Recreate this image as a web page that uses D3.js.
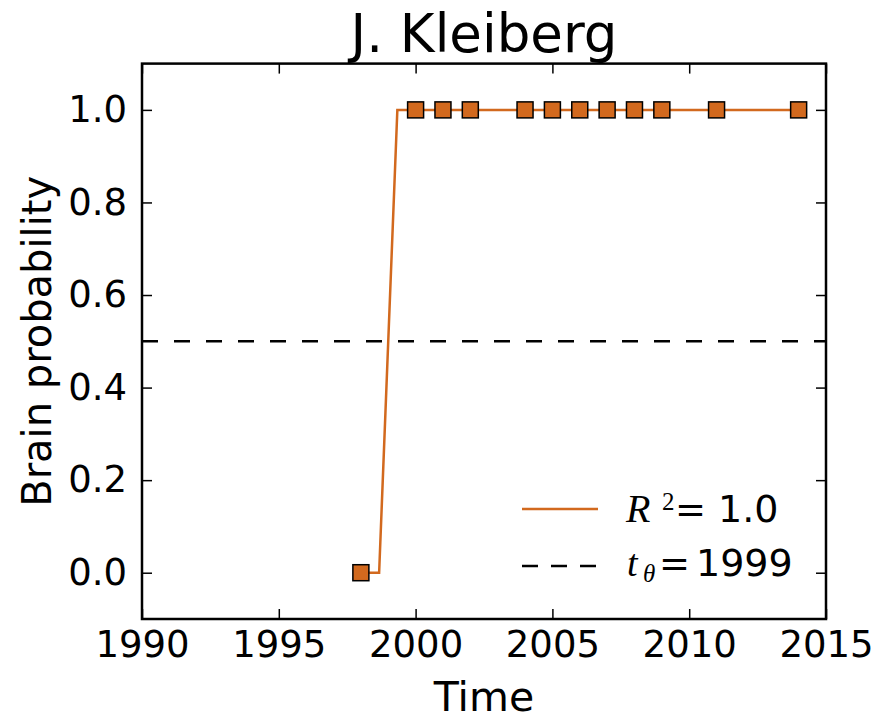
<!DOCTYPE html>
<html>
<head>
<meta charset="utf-8">
<script src="https://cdn.jsdelivr.net/npm/d3@7"></script>
<style>
  body { margin: 0; background: #fff; }
  text { font-family: "DejaVu Sans", sans-serif; fill: #000; }
</style>
</head>
<body>
<div id="chart"></div>
<script>
// observed points
const years = [1998, 2000, 2001, 2002, 2004, 2005, 2006, 2007, 2008, 2009, 2011, 2014];
const probs = [0, 1, 1, 1, 1, 1, 1, 1, 1, 1, 1, 1];

// fitted curve as drawn
const fitYears = [1998, 1998.667, 1999.333, 2000, 2014];
const fitProbs = [0, 0, 1, 1, 1];

const threshold = 0.5;
const r2 = "1.0";
const tTheta = "1999";

const xTicks = [1990, 1995, 2000, 2005, 2010, 2015];
const yTicks = [0.0, 0.2, 0.4, 0.6, 0.8, 1.0];

const width = 876, height = 720;
const margin = {left: 142, right: 50, top: 63.6, bottom: 101};
const color = "#d2691e";

const svg = d3.select("#chart").append("svg")
    .attr("width", width)
    .attr("height", height);

const x = d3.scaleLinear().domain([1990, 2015]).range([margin.left, width - margin.right]);
const y = d3.scaleLinear().domain([-0.1, 1.1]).range([height - margin.bottom, margin.top]);

// title
svg.append("text")
    .attr("x", (x.range()[0] + x.range()[1]) / 2)
    .attr("y", 52)
    .attr("text-anchor", "middle")
    .style("font-size", "53px")
    .text("J. Kleiberg");

// axes with inward ticks
const tickLen = 10;
const axB = svg.append("g").attr("transform", `translate(0,${y.range()[0]})`)
    .call(d3.axisBottom(x).tickValues(xTicks).tickFormat(d3.format("d")).tickSize(-tickLen).tickPadding(12));
const axL = svg.append("g").attr("transform", `translate(${x.range()[0]},0)`)
    .call(d3.axisLeft(y).tickValues(yTicks).tickFormat(d3.format(".1f")).tickSize(-tickLen).tickPadding(15));
const axT = svg.append("g").attr("transform", `translate(0,${y.range()[1]})`)
    .call(d3.axisTop(x).tickValues(xTicks).tickFormat("").tickSize(-tickLen));
const axR = svg.append("g").attr("transform", `translate(${x.range()[1]},0)`)
    .call(d3.axisRight(y).tickValues(yTicks).tickFormat("").tickSize(-tickLen));

[axB, axL, axT, axR].forEach(g => {
    g.select(".domain").remove();
    g.selectAll(".tick line").attr("stroke", "#000").attr("stroke-width", 1.5);
    g.selectAll(".tick text").style("font-size", "37px").style("font-family", "DejaVu Sans");
});

// axis labels
svg.append("text")
    .attr("x", (x.range()[0] + x.range()[1]) / 2)
    .attr("y", 711)
    .attr("text-anchor", "middle")
    .style("font-size", "41px")
    .text("Time");

svg.append("text")
    .attr("transform", `translate(51,${(y.range()[0] + y.range()[1]) / 2}) rotate(-90)`)
    .attr("text-anchor", "middle")
    .style("font-size", "40px")
    .text("Brain probability");

// threshold line
svg.append("line")
    .attr("x1", x.range()[0]).attr("x2", x.range()[1])
    .attr("y1", y(threshold)).attr("y2", y(threshold))
    .attr("stroke", "#000")
    .attr("stroke-width", 2.5)
    .attr("stroke-dasharray", "16,16");

// fit line
const line = d3.line().x((d, i) => x(fitYears[i])).y(d => y(d));
svg.append("path")
    .datum(fitProbs)
    .attr("d", line)
    .attr("fill", "none")
    .attr("stroke", color)
    .attr("stroke-width", 2.5);

// markers
const ms = 16;
svg.append("g").selectAll("rect")
    .data(years)
    .enter()
    .append("rect")
    .attr("x", d => x(d) - ms / 2)
    .attr("y", (d, i) => y(probs[i]) - ms / 2)
    .attr("width", ms)
    .attr("height", ms)
    .attr("fill", color)
    .attr("stroke", "#000")
    .attr("stroke-width", 1.5);

// frame
svg.append("rect")
    .attr("x", x.range()[0]).attr("y", y.range()[1])
    .attr("width", x.range()[1] - x.range()[0])
    .attr("height", y.range()[0] - y.range()[1])
    .attr("fill", "none")
    .attr("stroke", "#000")
    .attr("stroke-width", 2.5);

// legend
const leg = svg.append("g");
leg.append("line")
    .attr("x1", 522).attr("x2", 598).attr("y1", 509).attr("y2", 509)
    .attr("stroke", color).attr("stroke-width", 2.5);
leg.append("line")
    .attr("x1", 522).attr("x2", 598).attr("y1", 566).attr("y2", 566)
    .attr("stroke", "#000").attr("stroke-width", 2.5)
    .attr("stroke-dasharray", "16,13");

const serif = "'Liberation Serif', 'DejaVu Serif', serif";
leg.append("text").attr("x", 626).attr("y", 522)
    .style("font-family", serif).style("font-style", "italic").style("font-size", "40px").text("R");
leg.append("text").attr("x", 662).attr("y", 510)
    .style("font-family", serif).style("font-size", "25px").text("2");
leg.append("text").attr("x", 675).attr("y", 522)
    .style("font-size", "37px").text("=");
leg.append("text").attr("x", 718).attr("y", 522)
    .style("font-size", "38px").text(r2);

leg.append("text").attr("x", 627).attr("y", 576)
    .style("font-family", serif).style("font-style", "italic").style("font-size", "38px").text("t");
leg.append("text").attr("x", 643).attr("y", 582)
    .style("font-family", serif).style("font-style", "italic").style("font-size", "25px").text("θ");
leg.append("text").attr("x", 659).attr("y", 576)
    .style("font-size", "37px").text("=");
leg.append("text").attr("x", 696).attr("y", 576)
    .style("font-size", "38px").text(tTheta);
</script>
</body>
</html>
